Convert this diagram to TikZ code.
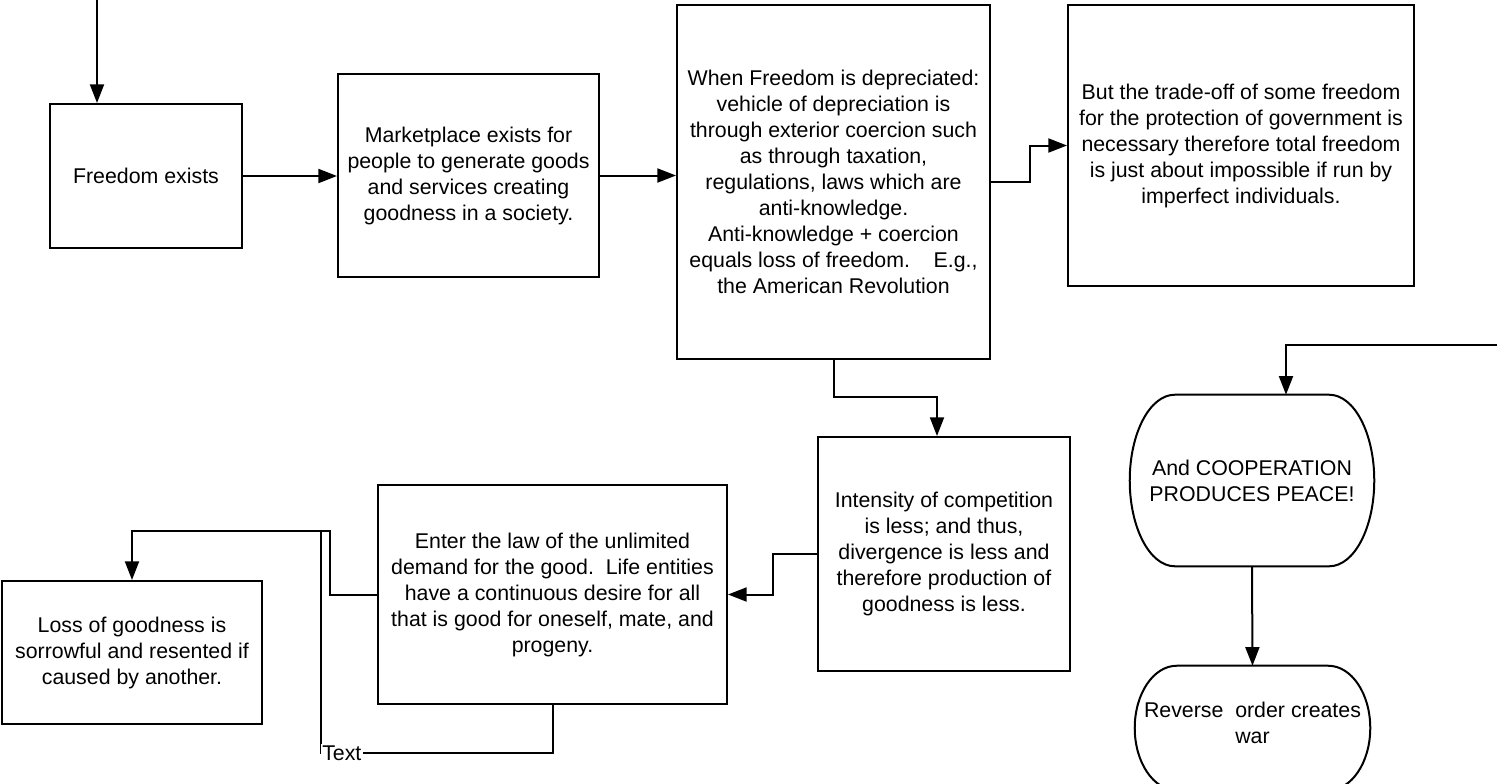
\documentclass[tikz,border=0pt]{standalone}
\usepackage{fontspec}
\setmainfont{Liberation Sans}
\usetikzlibrary{arrows.meta,calc}
\tikzset{
  boxnode/.style={draw=black, line width=1.5pt, rectangle, inner sep=0pt, align=center, font=\fontsize{16}{19.5}\selectfont},
  plainnode/.style={inner sep=0pt, align=center, font=\fontsize{16}{19.5}\selectfont},
  shapeline/.style={draw=black, line width=1.5pt},
  conn/.style={line width=1.5pt, draw=black},
  arr/.style={conn, -{Triangle[length=14pt,width=10.5pt]}},
  lbl/.style={fill=white, inner sep=1pt, font=\fontsize{16}{19.5}\selectfont}
}
\newcommand\termpath[2]{%
  \path (#1.north west) ++(#2,0) coordinate (#1-tl)
        (#1.north east) ++(-#2,0) coordinate (#1-tr)
        (#1.south west) ++(#2,0) coordinate (#1-bl)
        (#1.south east) ++(-#2,0) coordinate (#1-br);
  \draw[shapeline] (#1-tl) -- (#1-tr)
    .. controls ($(#1-tr)!0.5523!(#1.north east)$) and ($(#1.east)!0.5523!(#1.north east)$) .. (#1.east)
    .. controls ($(#1.east)!0.5523!(#1.south east)$) and ($(#1-br)!0.5523!(#1.south east)$) .. (#1-br)
    -- (#1-bl)
    .. controls ($(#1-bl)!0.5523!(#1.south west)$) and ($(#1.west)!0.5523!(#1.south west)$) .. (#1.west)
    .. controls ($(#1.west)!0.5523!(#1.north west)$) and ($(#1-tl)!0.5523!(#1.north west)$) .. (#1-tl) -- cycle;}
\begin{document}
\begin{tikzpicture}[x=0.75pt, y=-0.75pt]
\useasboundingbox[fill=white] (0,0) rectangle (1497,783);

\node[boxnode, minimum width=144pt, minimum height=108pt] (fe) at (146,176) {Freedom exists};
\node[boxnode, minimum width=195.75pt, minimum height=152.25pt] (mk) at (468.5,175.5) {Marketplace exists for\\people to generate goods\\and services creating\\goodness in a society.};
\node[boxnode, minimum width=234.75pt, minimum height=265.5pt] (wf) at (833.5,182) {When Freedom is depreciated:\\vehicle of depreciation is\\through exterior coercion such\\as through taxation,\\regulations, laws which are\\anti-knowledge.\\Anti-knowledge + coercion\\equals loss of freedom.~~~~E.g.,\\the American Revolution};
\node[boxnode, minimum width=259.5pt, minimum height=210.75pt] (to) at (1241,145.5) {But the trade-off of some freedom\\for the protection of government is\\necessary therefore total freedom\\is just about impossible if run by\\imperfect individuals.};
\node[boxnode, minimum width=189pt, minimum height=175.5pt] (ic) at (944,554) {Intensity of competition\\is less; and thus,\\divergence is less and\\therefore production of\\goodness is less.};
\node[boxnode, minimum width=261.75pt, minimum height=164.25pt] (el) at (552.5,594.5) {Enter the law of the unlimited\\demand for the good.~~Life entities\\have a continuous desire for all\\that is good for oneself, mate, and\\progeny.};
\node[boxnode, minimum width=195pt, minimum height=107.25pt] (lg) at (132,652.5) {Loss of goodness is\\sorrowful and resented if\\caused by another.};

\node[plainnode, minimum width=183pt, minimum height=128.25pt] (coop) at (1252,480.5) {And COOPERATION\\PRODUCES PEACE!};
\termpath{coop}{45}
\node[plainnode, minimum width=176.25pt, minimum height=93pt] (rev) at (1252.5,728) {};
\termpath{rev}{42}
\node[plainnode] (revtxt) at (1252.5,723) {Reverse~~order creates\\war};

\coordinate (topin) at (97,0);
\coordinate (rightin) at (1497,345);

\draw[arr] (topin) -- (fe.north -| topin);
\draw[arr] (fe.east) -- (mk.west |- fe.east);
\draw[arr] (mk.east) -- (wf.west |- mk.east);
\draw[arr] (wf.east) -- (1030,182) |- (to.west);
\draw[arr] (wf.south) |- (937,397) -- ($(ic.north)+(-7,0)$);
\draw[arr] (ic.west) -- (773,554) |- (el.east);
\draw[arr] (el.west) -| (330,531) -| (lg.north);
\draw[conn] (el.south) -- (552.5,753) -- node[lbl, pos=0.91] (txt) {Text} (321,753) -- (321,531) -- (330,531);
\draw[arr] (rightin) -| ($(coop.north)+(34,0)$);
\draw[arr] (coop.south) -- (rev.north);
\end{tikzpicture}
\end{document}
